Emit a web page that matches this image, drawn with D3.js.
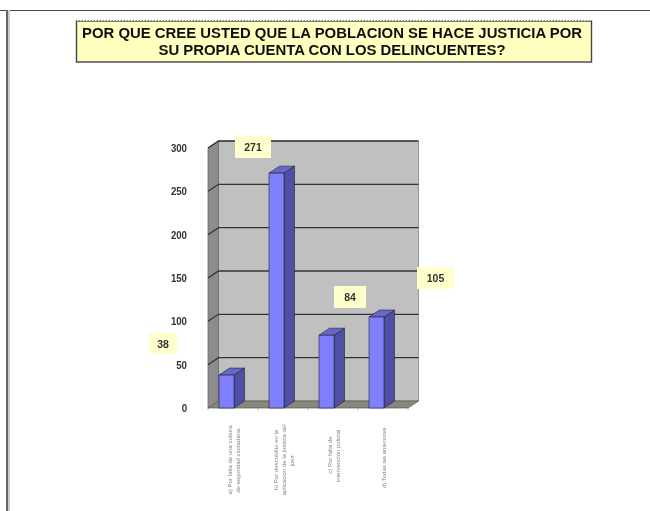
<!DOCTYPE html>
<html><head><meta charset="utf-8">
<script src="https://cdn.jsdelivr.net/npm/d3@7/dist/d3.min.js"></script>
<style>html,body{margin:0;padding:0;background:#fff}svg{display:block}text{font-family:"Liberation Sans",Arial,sans-serif}</style>
</head><body><svg id="c" width="650" height="511"></svg>
<script>
const titleLines = ["POR QUE CREE USTED QUE LA POBLACION SE HACE JUSTICIA POR","SU PROPIA CUENTA CON LOS DELINCUENTES?"];
const categories = ["a","b","c","d"];
const values = [38,271,84,105];
const yTicks = [0,50,100,150,200,250,300];
const catLabels = [
 ["a) Por falta de una cultura","de seguridad ciudadana."],
 ["b) Por descrédito en la","aplicación de la justicia del","juez."],
 ["c) Por falta de","intervención policial."],
 ["d) Todas las anteriores."]
];
const labelBoxes = [[149,333,28,21],[235,136,36,22],[334,286,32,22],[417,267,37,22]];

const svg = d3.select("#c");
const defs = svg.append("defs");
defs.append("filter").attr("id","soft").append("feGaussianBlur").attr("stdDeviation",0.45);
defs.append("filter").attr("id","softer").append("feGaussianBlur").attr("stdDeviation",0.5);
const g = svg.append("g").attr("filter","url(#soft)");

// page frame
g.append("line").attr("x1",0).attr("x2",650).attr("y1",10.5).attr("y2",10.5).attr("stroke","#444").attr("stroke-width",1);
g.append("line").attr("x1",7).attr("x2",7).attr("y1",10).attr("y2",511).attr("stroke","#666").attr("stroke-width",2);
g.append("line").attr("x1",9).attr("x2",9).attr("y1",10).attr("y2",511).attr("stroke","#ccc").attr("stroke-width",2);

// title
g.append("rect").attr("x",76.5).attr("y",21).attr("width",515).attr("height",41).attr("fill","#ffffc0").attr("stroke","#444").attr("stroke-width",1.4);
g.append("line").attr("x1",77).attr("x2",591).attr("y1",20.5).attr("y2",20.5).attr("stroke","#fff").attr("stroke-width",1).attr("stroke-dasharray","1.5 1.5");
g.selectAll("text.t").data(titleLines).join("text").attr("class","t")
 .attr("x",332).attr("y",(d,i)=>38+i*17).attr("text-anchor","middle")
 .attr("font-size",14.5).attr("font-weight","bold").attr("fill","#111").attr("textLength",(d,i)=>i?347:500).attr("lengthAdjust","spacingAndGlyphs").text(d=>d);

// scales
const y = d3.scaleLinear().domain([0,300]).range([408,148]);
const x = d3.scaleBand().domain(categories).range([208,408]);
const barW = 15, dx = 10.5, dy = 7;
const poly = pts => pts.map(p=>p.join(",")).join(" ");
const xL=208,xR=408;

// back wall, side wall, floor
g.append("polygon").attr("points",poly([[xL+dx,y(0)-dy],[xR+dx,y(0)-dy],[xR+dx,y(300)-dy],[xL+dx,y(300)-dy]])).attr("fill","#c0c0c0").attr("stroke","#777").attr("stroke-width",.7);
g.append("polygon").attr("points",poly([[xL,y(0)],[xL+dx,y(0)-dy],[xL+dx,y(300)-dy],[xL,y(300)]])).attr("fill","#8c8c8c").attr("stroke","#666").attr("stroke-width",.7);
g.append("polygon").attr("points",poly([[xL,y(0)],[xR,y(0)],[xR+dx,y(0)-dy],[xL+dx,y(0)-dy]])).attr("fill","#87877c").attr("stroke","#555").attr("stroke-width",.7);

// gridlines
yTicks.filter(t=>t>0).forEach(t=>{
  g.append("polyline").attr("points",poly([[xL,y(t)],[xL+dx,y(t)-dy],[xR+dx,y(t)-dy]])).attr("fill","none").attr("stroke","#333").attr("stroke-width",1.3);
});

// y axis labels
g.selectAll("text.y").data(yTicks).join("text").attr("class","y")
 .attr("x",187).attr("y",d=>y(d)+4).attr("text-anchor","end").attr("font-size",10.5).attr("font-weight","bold").attr("fill","#333")
 .attr("transform",d=>`translate(${187*0.08},0) scale(0.92,1)`).text(d=>d);

// x ticks
d3.range(5).forEach(i=>{
  const px = xL + i*x.step();
  g.append("line").attr("x1",px).attr("x2",px).attr("y1",408).attr("y2",410).attr("stroke","#aaa");
});

// bars
const bars = g.selectAll("g.bar").data(values).join("g").attr("class","bar");
const bx = (d,i)=>x(categories[i])+11;
bars.append("polygon").attr("points",(d,i)=>{const a=bx(d,i)+barW;return poly([[a,y(d)],[a+dx,y(d)-dy],[a+dx,y(0)-dy],[a,y(0)]]);}).attr("fill","#5050a8").attr("stroke","#222").attr("stroke-width",.6);
bars.append("polygon").attr("points",(d,i)=>{const a=bx(d,i);return poly([[a,y(d)],[a+barW,y(d)],[a+barW+dx,y(d)-dy],[a+dx,y(d)-dy]]);}).attr("fill","#6666cc").attr("stroke","#222").attr("stroke-width",.6);
bars.append("rect").attr("x",bx).attr("y",d=>y(d)).attr("width",barW).attr("height",d=>y(0)-y(d)).attr("fill","#8080ff").attr("stroke","#222").attr("stroke-width",.6);

// value labels
values.forEach((v,i)=>{
  const b = labelBoxes[i];
  g.append("rect").attr("x",b[0]).attr("y",b[1]).attr("width",b[2]).attr("height",b[3]).attr("fill","#ffffcc");
  g.append("text").attr("x",b[0]+b[2]/2).attr("y",b[1]+b[3]/2+4).attr("text-anchor","middle").attr("font-size",10.5).attr("font-weight","bold").attr("fill","#333").text(v);
});

// category labels
const catCx = [234,284,334,384];
catLabels.forEach((lines,i)=>{
  lines.forEach((l,j)=>{
    svg.append("text").attr("filter","url(#softer)")
      .attr("transform",`translate(${catCx[i]+(j-(lines.length-1)/2)*8+2},${[460,460,455,457][i]}) rotate(-90)`)
      .attr("text-anchor","middle").attr("font-size",6).attr("fill","#888").text(l);
  });
});
</script></body></html>
